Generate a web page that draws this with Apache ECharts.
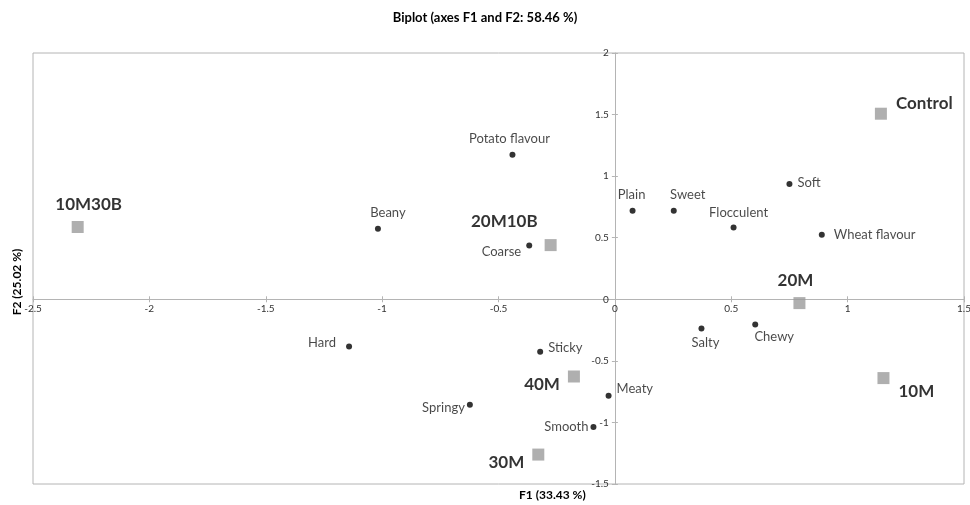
<!DOCTYPE html>
<html>
<head>
<meta charset="utf-8">
<script src="https://cdn.jsdelivr.net/npm/echarts@6/dist/echarts.min.js"></script>
<style>html,body{margin:0;padding:0;background:#fff}#c{width:970px;height:505px}</style>
</head>
<body>
<div id="c"></div>
<script>
// Variables (active, black dots)
const varNames = ['Potato flavour','Beany','Coarse','Plain','Sweet','Flocculent','Soft','Wheat flavour','Hard','Springy','Sticky','Meaty','Smooth','Salty','Chewy'];
const varF1 = [-0.440,-1.018,-0.368,0.076,0.253,0.510,0.750,0.889,-1.142,-0.623,-0.321,-0.027,-0.092,0.372,0.603];
const varF2 = [1.174,0.573,0.437,0.719,0.719,0.583,0.936,0.524,-0.383,-0.857,-0.426,-0.784,-1.038,-0.237,-0.205];
// Observations (grey squares)
const obsNames = ['10M30B','20M10B','Control','20M','10M','40M','30M'];
const obsF1 = [-2.308,-0.276,1.143,0.793,1.154,-0.176,-0.329];
const obsF2 = [0.587,0.440,1.507,-0.031,-0.640,-0.627,-1.261];
// Axis range / ticks
const xTicks = {min:-2.5,max:1.5,interval:0.5};
const yTicks = {min:-1.5,max:2,interval:0.5};
const titleText = 'Biplot (axes F1 and F2: 58.46 %)';
const xName = 'F1 (33.43 %)';
const yName = 'F2 (25.02 %)';

// label placement (style only)
const varLabel = {
  'Potato flavour':['top',[-3,-2]], 'Beany':['top',[10,-2]], 'Coarse':['left',[-1,6]],
  'Plain':['top',[-1,-2]], 'Sweet':['top',[14,-2]], 'Flocculent':['top',[5,-1]],
  'Soft':['right',[1,-1]], 'Wheat flavour':['right',[5,0]], 'Hard':['left',[-6,-4]],
  'Springy':['left',[2,3]], 'Sticky':['right',[1,-4]], 'Meaty':['right',[1,-7]],
  'Smooth':['left',[2,0]], 'Salty':['bottom',[4,1]], 'Chewy':['bottom',[19,-1]]
};
const obsLabel = {
  '10M30B':['top',[11,-3]], '20M10B':['left',[-2,-24]], 'Control':['right',[4,-10]],
  '20M':['top',[-4,-3]], '10M':['right',[4,13]], '40M':['left',[-3,8]], '30M':['left',[-3,8]]
};

const varData = varNames.map((n,i)=>({name:n,value:[varF1[i],varF2[i]],
  label:{position:varLabel[n][0],offset:varLabel[n][1]}}));
const obsData = obsNames.map((n,i)=>({name:n,value:[obsF1[i],obsF2[i]],
  label:{position:obsLabel[n][0],offset:obsLabel[n][1]}}));

const axisCol = '#b4b4b4';
function mkAxis(range, inside, isX){
  return {type:'value',min:range.min,max:range.max,interval:range.interval,
    axisLine:{show:!inside,onZero:false,lineStyle:{color:axisCol,width:1}},
    axisTick:{show:true,inside:inside,length:3,lineStyle:{color:axisCol}},
    axisLabel:{show:!inside,fontFamily:'Lato',fontSize:10,color:'#333',margin:isX?4:6},
    splitLine:{show:false}};
}
const chart = echarts.init(document.getElementById('c'), null, {renderer:'canvas'});
chart.setOption({
  animation:false,
  backgroundColor:'#fff',
  textStyle:{fontFamily:'Lato'},
  title:{text:titleText,left:'center',top:6,textStyle:{fontFamily:'Lato',fontSize:13,fontWeight:'bold',color:'#000'}},
  grid:{left:33,right:6,top:53,bottom:21,show:true,borderColor:axisCol,borderWidth:1,backgroundColor:'transparent',outerBoundsMode:'none',containLabel:false},
  xAxis:[mkAxis(xTicks,false,true), Object.assign(mkAxis(xTicks,true,true),{position:'bottom'})],
  yAxis:[mkAxis(yTicks,false,false), Object.assign(mkAxis(yTicks,true,false),{position:'left'})],
  graphic:[
    {type:'text',left:519,top:489,style:{text:xName,font:'bold 12px Lato',fill:'#000'}},
    {type:'text',x:17,y:282,rotation:Math.PI/2,style:{text:yName,font:'bold 12px Lato',fill:'#000',align:'center',verticalAlign:'middle'}}
  ],
  series:[
    {type:'scatter',name:'Variables',data:varData,symbol:'circle',symbolSize:6,
      itemStyle:{color:'#000'},
      label:{show:true,formatter:'{b}',fontFamily:'Lato',fontSize:13,color:'#1a1a1a',distance:4}},
    {type:'scatter',name:'Observations',data:obsData,symbol:'rect',symbolSize:12,
      itemStyle:{color:'#9b9b9b'},
      label:{show:true,formatter:'{b}',fontFamily:'Lato',fontSize:17,fontWeight:'bold',color:'#000',distance:5}}
  ]
});
// Move axes to cross at the origin, using the library's own scales
const zero = chart.convertToPixel({gridIndex:0},[0,0]);
const corner = chart.convertToPixel({gridIndex:0},[xTicks.min,yTicks.min]);
const xo = -(corner[1]-zero[1]);
const yo = -(zero[0]-corner[0]);
chart.setOption({
  xAxis:[{offset:xo},{offset:xo}],
  yAxis:[{offset:yo},{offset:yo}]
});
</script>
</body>
</html>
